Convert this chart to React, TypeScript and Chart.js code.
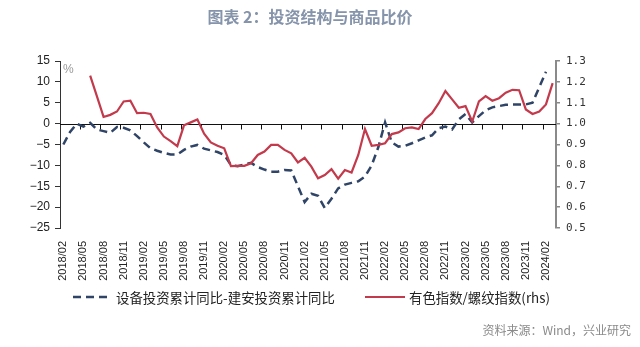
import React, { useEffect, useRef } from "react";
import { Chart, registerables } from "chart.js";

Chart.register(...registerables);

const months: string[] = [
  "2018/02", "2018/03", "2018/04", "2018/05", "2018/06", "2018/07", "2018/08", "2018/09", "2018/10", "2018/11", "2018/12",
  "2019/01", "2019/02", "2019/03", "2019/04", "2019/05", "2019/06", "2019/07", "2019/08", "2019/09", "2019/10", "2019/11", "2019/12",
  "2020/01", "2020/02", "2020/03", "2020/04", "2020/05", "2020/06", "2020/07", "2020/08", "2020/09", "2020/10", "2020/11", "2020/12",
  "2021/01", "2021/02", "2021/03", "2021/04", "2021/05", "2021/06", "2021/07", "2021/08", "2021/09", "2021/10", "2021/11", "2021/12",
  "2022/01", "2022/02", "2022/03", "2022/04", "2022/05", "2022/06", "2022/07", "2022/08", "2022/09", "2022/10", "2022/11", "2022/12",
  "2023/01", "2023/02", "2023/03", "2023/04", "2023/05", "2023/06", "2023/07", "2023/08", "2023/09", "2023/10", "2023/11", "2023/12",
  "2024/01", "2024/02", "2024/03",
];

// 设备投资累计同比-建安投资累计同比 (%, left axis)
const equipMinusConstr: (number | null)[] = [
  -5.0, -2.0, 0.0, -0.7, 0.2, -1.4, -1.8, -2.2, -0.8, -1.0, -1.6,
  -3.0, -4.5, -5.9, -6.5, -7.0, -7.4, -7.4, -6.3, -5.5, -5.1, -6.0, -6.4,
  -6.8, -7.5, -9.9, -10.2, -9.8, -9.4, -10.4, -11.0, -11.5, -11.5, -11.1, -11.2,
  -15.0, -18.8, -16.8, -17.3, -20.2, -18.0, -15.5, -14.6, -14.2, -13.8, -12.7, -10.0,
  -5.6, 0.3, -4.5, -5.5, -5.3, -4.7, -4.0, -3.3, -2.8, -1.1, -0.7, -1.4,
  1.0, 2.3, 0.3, 1.8, 3.2, 3.9, 4.2, 4.5, 4.6, 4.6, 4.6, 5.0,
  8.7, 12.4, null,
];

// 有色指数/螺纹指数 (right axis)
const metalRebarRatio: (number | null)[] = [
  null, null, null, null, 1.23, 1.132, 1.032, 1.042, 1.058, 1.106, 1.11,
  1.05, 1.052, 1.046, 0.982, 0.938, 0.916, 0.892, 0.992, 1.006, 1.02, 0.952, 0.91,
  0.894, 0.882, 0.796, 0.798, 0.798, 0.81, 0.85, 0.866, 0.898, 0.898, 0.874, 0.858,
  0.814, 0.836, 0.794, 0.738, 0.754, 0.782, 0.736, 0.778, 0.766, 0.85, 0.974, 0.894,
  0.898, 0.906, 0.95, 0.958, 0.978, 0.982, 0.974, 1.022, 1.05, 1.098, 1.156, 1.116,
  1.076, 1.084, 1.01, 1.106, 1.132, 1.11, 1.122, 1.148, 1.162, 1.16, 1.068, 1.046,
  1.058, 1.092, 1.194,
];

const seriesNames = ["设备投资累计同比-建安投资累计同比", "有色指数/螺纹指数(rhs)"];
const leftTicks = { min: -25, max: 15, step: 5 };
const rightTicks = { min: 0.5, max: 1.3, step: 0.1 };

const NAVY = "#2f4466";
const RED = "#c23a4c";

const zeroLinePlugin = {
  id: "zeroLine",
  beforeDatasetsDraw(chart: any) {
    const { ctx, chartArea, scales } = chart;
    const y = Math.round(scales.y.getPixelForValue(0)) + 0.5;
    const w = (chartArea.right - chartArea.left) / months.length;
    ctx.save();
    ctx.strokeStyle = "#111";
    ctx.lineWidth = 1;
    ctx.beginPath();
    ctx.moveTo(chartArea.left, y);
    ctx.lineTo(chartArea.right, y);
    for (let i = 3; i <= months.length; i += 3) {
      const px = Math.round(chartArea.left + i * w) + 0.5;
      ctx.moveTo(px, y);
      ctx.lineTo(px, y + 5);
    }
    ctx.stroke();
    ctx.restore();
  },
};

export default function App() {
  const ref = useRef<HTMLCanvasElement | null>(null);

  useEffect(() => {
    if (!ref.current) return;
    const chart = new Chart(ref.current, {
      type: "line",
      data: {
        labels: months,
        datasets: [
          {
            label: seriesNames[0],
            data: equipMinusConstr,
            borderColor: NAVY,
            borderWidth: 2.5,
            borderDash: [8, 5],
            pointRadius: 0,
            yAxisID: "y",
            order: 1,
          },
          {
            label: seriesNames[1],
            data: metalRebarRatio,
            borderColor: RED,
            borderWidth: 2.2,
            pointRadius: 0,
            yAxisID: "y1",
            order: 0,
          },
        ],
      },
      options: {
        animation: false,
        responsive: false,
        layout: { padding: { top: 61, bottom: 59, left: 0, right: 0 } },
        plugins: { legend: { display: false }, title: { display: false }, tooltip: { enabled: false } },
        scales: {
          x: {
            offset: true,
            grid: { display: false },
            border: { display: false },
            ticks: {
              autoSkip: false,
              minRotation: 90,
              maxRotation: 90,
              padding: 5,
              color: "#222",
              font: { family: "'Liberation Sans', Arial, sans-serif", size: 11 },
              callback: (_v: any, i: number) => (i % 3 === 0 ? months[i] : ""),
            },
            afterFit: (s: any) => {
              s.height = 60;
            },
          },
          y: {
            position: "left",
            min: leftTicks.min,
            max: leftTicks.max,
            grid: { drawOnChartArea: false, drawTicks: true, tickLength: 5, color: "#333" },
            border: { display: true, color: "#333", width: 1 },
            ticks: {
              stepSize: leftTicks.step,
              padding: 5,
              color: "#222",
              font: { family: "'Liberation Sans', Arial, sans-serif", size: 12 },
              callback: (v: any) => (v < 0 ? "\u2212" + Math.abs(v) : String(v)),
            },
            afterFit: (s: any) => {
              s.width = 60;
            },
          },
          y1: {
            position: "right",
            min: rightTicks.min,
            max: rightTicks.max,
            grid: { drawOnChartArea: false, drawTicks: true, tickLength: 4, color: "#888", lineWidth: 1.5 },
            border: { display: true, color: "#8a8a8a", width: 2 },
            ticks: {
              stepSize: rightTicks.step,
              padding: 6,
              color: "#333",
              font: { family: "'DejaVu Sans Mono', monospace", size: 11 },
              callback: (v: any) => Number(v).toFixed(1),
            },
            afterFit: (s: any) => {
              s.width = 84;
            },
          },
        },
      },
      plugins: [zeroLinePlugin],
    });
    return () => chart.destroy();
  }, []);

  const cjk = "'Noto Sans CJK SC', 'Noto Sans', sans-serif";

  return (
    <div
      style={{
        position: "fixed",
        left: 0,
        top: 0,
        width: 640,
        height: 347,
        background: "#fff",
        overflow: "hidden",
        fontFamily: cjk,
      }}
    >
      <canvas ref={ref} width={640} height={347} style={{ position: "absolute", left: 0, top: 0 }} />
      <div
        style={{
          position: "absolute",
          left: 0,
          width: 620,
          top: 5,
          height: 22,
          lineHeight: "22px",
          textAlign: "center",
          fontSize: 16,
          fontWeight: 700,
          color: "#8594aa",
          whiteSpace: "nowrap",
        }}
      >
        图表 2：投资结构与商品比价
      </div>
      <div
        style={{
          position: "absolute",
          left: 63,
          top: 62,
          fontSize: 12,
          lineHeight: "14px",
          color: "#999",
          fontFamily: "'Liberation Sans', Arial, sans-serif",
        }}
      >
        %
      </div>
      <svg style={{ position: "absolute", left: 72, top: 290 }} width={40} height={14}>
        <line x1={1} y1={7} x2={39} y2={7} stroke={NAVY} strokeWidth={2.5} strokeDasharray="8,5" />
      </svg>
      <div
        style={{
          position: "absolute",
          left: 116,
          top: 288,
          height: 18,
          lineHeight: "18px",
          fontSize: 13.4,
          color: "#222",
          whiteSpace: "nowrap",
        }}
      >
        {seriesNames[0]}
      </div>
      <svg style={{ position: "absolute", left: 365, top: 290 }} width={40} height={14}>
        <line x1={0} y1={7} x2={40} y2={7} stroke={RED} strokeWidth={2.2} />
      </svg>
      <div
        style={{
          position: "absolute",
          left: 409,
          top: 288,
          height: 18,
          lineHeight: "18px",
          fontSize: 13.4,
          color: "#222",
          whiteSpace: "nowrap",
        }}
      >
        {seriesNames[1]}
      </div>
      <div
        style={{
          position: "absolute",
          right: 9,
          top: 321,
          height: 18,
          lineHeight: "18px",
          fontSize: 12,
          color: "#8a8a8a",
          whiteSpace: "nowrap",
        }}
      >
        资料来源：Wind，兴业研究
      </div>
    </div>
  );
}
